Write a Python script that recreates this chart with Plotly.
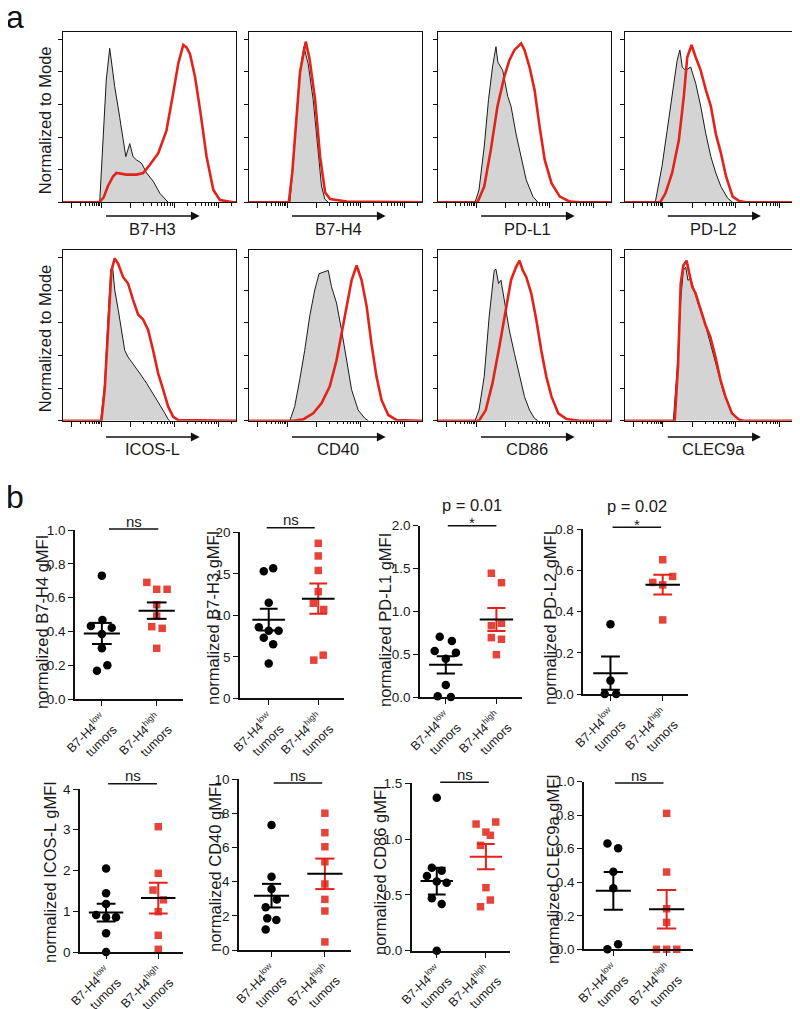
import math
import numpy as np
import plotly.graph_objects as go

# The page body adds an 8 px margin, so the figure is drawn 8 px smaller
# and all layout positions below are given in window pixels.
OFF = 8
W, H = 800 - OFF, 1009 - OFF
FONT = "Liberation Sans, Arial, Helvetica, sans-serif"
RED = "#e2231a"
RED_DOT = "#e6443a"
GREY_FILL = "#d4d4d4"

# ---------------- panel a : flow cytometry histograms ----------------
# x : position on display scale (% of plot width), y : % of mode
hist_names = ["B7-H3", "B7-H4", "PD-L1", "PD-L2", "ICOS-L", "CD40", "CD86", "CLEC9a"]

b7h3_ctrl_x = [21.2, 23.2, 25.0, 27.0, 29.9, 32.8, 35.1, 36.3, 38.6, 40.5, 42.5, 45.4, 48.3, 52.1, 56.0, 59.8, 60.8]
b7h3_ctrl_y = [0, 40, 75, 94.5, 71, 52, 36, 28, 36, 28, 26, 24, 18, 13, 5.5, 1, 0]
b7h3_stain_x = [0, 21.0, 23.5, 26.0, 29.0, 30.9, 36.7, 42.5, 46.3, 50.2, 55.0, 59.8, 63.7, 66.6, 69.5, 71.4, 73.4, 76.3, 79.2, 83.0, 86.9, 90.7, 98.5, 100]
b7h3_stain_y = [0, 0, 3, 10, 16, 18, 17, 17, 18, 23, 30, 44, 67, 85, 96.5, 95, 91, 77, 57, 28, 7.6, 1.4, 0, 0]

b7h4_ctrl_x = [23.6, 25.5, 27.4, 29.3, 31.7, 34.2, 37.1, 40.0, 41.9, 43.8, 45.8]
b7h4_ctrl_y = [0, 22, 52.5, 79, 95.5, 85, 63, 32, 10, 2, 0]
b7h4_stain_x = [0, 23.0, 25.0, 27.4, 29.5, 32.8, 35.0, 38.2, 41.1, 44.0, 46.9, 56.5, 100]
b7h4_stain_y = [0, 0, 18, 50, 80, 98.6, 88, 63, 28, 6, 2, 0.5, 0]

pdl1_ctrl_x = [21.4, 23.7, 26.7, 29.2, 31.5, 33.5, 34.6, 37.4, 40.3, 42.2, 45.1, 48.1, 51.0, 54.9, 57.8]
pdl1_ctrl_y = [0, 7.6, 34, 63, 83, 95.5, 86, 81, 65, 59, 42, 28, 13.7, 3.5, 0]
pdl1_stain_x = [0, 22.8, 26.7, 30.5, 34.4, 38.3, 41.2, 44.2, 48.1, 50.0, 52.9, 55.8, 58.8, 61.7, 65.6, 70.4, 76.3, 82.1, 100]
pdl1_stain_y = [0, 0, 9.6, 32, 59, 77, 87, 93.5, 97.5, 93.5, 83, 69, 46, 26, 11.7, 3.5, 0.4, 0, 0]

pdl2_ctrl_x = [17.6, 21.5, 24.5, 27.4, 30.3, 31.9, 33.3, 35.2, 38.2, 41.1, 44.0, 47.0, 49.9, 52.8, 55.8, 59.7, 62.6]
pdl2_ctrl_y = [0, 22, 44, 67, 87, 93.5, 83, 81, 83, 73, 59, 42, 28, 18, 9.6, 2.5, 0]
pdl2_stain_x = [0, 20.5, 23.5, 27.4, 31.3, 34.2, 36.2, 38.7, 41.1, 44.0, 47.0, 49.9, 52.8, 55.8, 58.7, 62.6, 66.5, 70.5, 100]
pdl2_stain_y = [0, 0, 5.5, 18, 38, 65, 89, 96.5, 89, 81, 69, 59, 42, 30, 16, 3.5, 0.8, 0, 0]

icosl_ctrl_x = [21.8, 24.1, 26.1, 27.6, 28.6, 29.9, 31.9, 33.8, 35.7, 37.6, 40.5, 44.4, 48.3, 52.1, 56.0, 58.9, 60.8, 61.8]
icosl_ctrl_y = [0, 23, 64, 92, 95, 80, 68, 55.5, 43, 39, 35, 29, 23, 16.7, 9.6, 4.5, 0.8, 0]
icosl_stain_x = [0, 22.2, 24.1, 26.1, 28.0, 29.9, 31.9, 34.7, 37.6, 40.5, 43.4, 46.3, 49.2, 52.1, 55.0, 57.9, 60.8, 63.7, 66.6, 100]
icosl_stain_y = [0, 0, 19, 60, 92, 99.4, 96, 88, 84, 74, 65, 62, 55.5, 43, 29, 19, 8.6, 2.4, 0.4, 0]

cd40_ctrl_x = [23.6, 26.4, 29.3, 32.2, 35.1, 38.0, 40.5, 42.9, 45.8, 47.7, 50.6, 53.5, 56.4, 59.3, 63.1, 67.0, 68.9]
cd40_ctrl_y = [0, 8.6, 25, 43, 64, 80, 90, 91, 92, 82, 72, 55.5, 37, 19, 6.5, 1.4, 0]
cd40_stain_x = [0, 25.5, 31.3, 37.1, 41.9, 46.7, 50.6, 53.5, 56.4, 59.3, 62.2, 65.1, 68.0, 70.8, 73.7, 76.6, 80.5, 85.3, 98.8, 100]
cd40_stain_y = [0, 0, 0.8, 4.5, 10.6, 21, 37, 53.5, 72, 86, 95, 86, 70, 47, 27, 12.7, 3.5, 0.4, 0, 0]

cd86_ctrl_x = [21.4, 23.7, 26.7, 29.6, 32.5, 33.5, 35.0, 36.4, 38.3, 41.2, 44.2, 47.1, 50.0, 52.9, 55.8, 57.8]
cd86_ctrl_y = [0, 6.5, 27, 64, 92, 92.7, 84, 86, 74, 55.5, 41, 27, 14.7, 6.5, 1.4, 0]
cd86_stain_x = [0, 23.7, 27.6, 31.5, 35.4, 39.3, 42.2, 45.1, 47.1, 49.0, 51.0, 53.9, 56.8, 59.7, 62.6, 65.6, 69.5, 74.3, 82.1, 100]
cd86_stain_y = [0, 0, 6.5, 23, 45, 68, 86, 94, 98, 92, 88, 78, 62, 43, 27, 14.7, 4.5, 1, 0, 0]

clec9a_ctrl_x = [28.1, 30.4, 32.4, 33.9, 35.3, 36.6, 38.2, 40.1, 43.0, 45.9, 48.7, 51.6, 54.5, 57.4, 61.3, 65.1, 67.1]
clec9a_ctrl_y = [0, 33, 74, 92, 94, 86, 87, 80, 70, 62, 51, 39, 27, 16.7, 6.5, 1.4, 0]
clec9a_stain_x = [0, 28.9, 30.8, 32.4, 33.9, 35.8, 37.4, 39.1, 41.0, 43.9, 46.8, 49.7, 52.6, 55.5, 58.4, 62.2, 66.1, 69.0, 100]
clec9a_stain_y = [0, 0, 33, 84, 95, 98, 90, 82, 78, 68, 58.6, 51, 39, 25, 14.7, 4.5, 0.8, 0, 0]

hist_ctrl = [(b7h3_ctrl_x, b7h3_ctrl_y), (b7h4_ctrl_x, b7h4_ctrl_y), (pdl1_ctrl_x, pdl1_ctrl_y),
             (pdl2_ctrl_x, pdl2_ctrl_y), (icosl_ctrl_x, icosl_ctrl_y), (cd40_ctrl_x, cd40_ctrl_y),
             (cd86_ctrl_x, cd86_ctrl_y), (clec9a_ctrl_x, clec9a_ctrl_y)]
hist_stain = [(b7h3_stain_x, b7h3_stain_y), (b7h4_stain_x, b7h4_stain_y), (pdl1_stain_x, pdl1_stain_y),
              (pdl2_stain_x, pdl2_stain_y), (icosl_stain_x, icosl_stain_y), (cd40_stain_x, cd40_stain_y),
              (cd86_stain_x, cd86_stain_y), (clec9a_stain_x, clec9a_stain_y)]

# ---------------- panel b : gMFI dot plots ----------------
group_labels = ["B7-H4<sup>low</sup><br>tumors", "B7-H4<sup>high</sup><br>tumors"]
dot_markers = ["B7-H4", "B7-H3", "PD-L1", "PD-L2", "ICOS-L", "CD40", "CD86", "CLEC9a"]

b7h4_low = [0.73, 0.467, 0.432, 0.422, 0.385, 0.30, 0.20, 0.167]
b7h4_high = [0.69, 0.649, 0.649, 0.558, 0.491, 0.428, 0.418, 0.30]
b7h3_low = [15.3, 15.66, 11.5, 8.55, 8.15, 8.15, 7.3, 6.5, 4.2]
b7h3_high = [18.67, 17.15, 15.4, 12.85, 11.45, 10.7, 4.6, 5.2]
pdl1_low = [0.704, 0.654, 0.537, 0.518, 0.447, 0.14, 0.01, 0.0]
pdl1_high = [1.445, 1.335, 0.833, 0.861, 0.693, 0.674, 0.494]
pdl2_low = [0.339, 0.065, 0.0, 0.0]
pdl2_high = [0.652, 0.571, 0.542, 0.530, 0.36]
icosl_low = [2.05, 1.44, 1.18, 0.91, 0.85, 0.85, 0.46, 0.0]
icosl_high = [3.075, 1.93, 1.52, 1.28, 0.99, 0.41, 0.065]
cd40_low = [7.31, 4.29, 3.57, 2.95, 2.5, 1.85, 1.75, 1.2]
cd40_high = [8.0, 6.86, 6.04, 5.16, 3.86, 2.96, 2.28, 0.47]
cd86_low = [1.371, 0.744, 0.717, 0.669, 0.62, 0.609, 0.47, 0.418, 0.0]
cd86_high = [1.135, 1.153, 1.063, 1.034, 0.944, 0.565, 0.454, 0.394]
clec9a_low = [0.632, 0.603, 0.463, 0.364, 0.03, 0.0]
clec9a_high = [0.811, 0.461, 0.242, 0.161, 0.0, 0.0, 0.0]

# horizontal scatter offsets of the points (category units)
b7h4_low_dx = [0, 0.01, -0.2, 0.18, 0, 0, 0.1, -0.09]
b7h4_high_dx = [-0.18, 0, 0.19, 0, 0, -0.09, 0.1, 0]
b7h3_low_dx = [-0.1, 0.09, 0, -0.2, 0, 0.2, -0.1, 0.09, 0]
b7h3_high_dx = [0, 0, 0, 0, -0.1, 0.11, -0.09, 0.1]
pdl1_low_dx = [-0.12, 0.12, -0.22, 0.2, 0, 0, -0.16, 0.1]
pdl1_high_dx = [-0.1, 0.1, -0.1, 0.1, -0.1, 0.1, 0]
pdl2_low_dx = [0, 0, -0.11, 0.11]
pdl2_high_dx = [0, 0.19, -0.19, 0, 0]
icosl_low_dx = [0, 0, 0, -0.19, 0, 0.19, 0, 0]
icosl_high_dx = [0, 0, -0.1, 0.1, 0, 0, 0]
cd40_low_dx = [0, 0, 0, 0.1, -0.11, -0.08, 0.09, -0.11]
cd40_high_dx = [0, 0, 0, 0, 0, 0, 0, 0]
cd86_low_dx = [0, -0.1, 0.1, -0.2, 0, 0.2, -0.1, 0.1, 0]
cd86_high_dx = [-0.2, 0.2, 0, 0.09, -0.11, 0, 0.09, -0.11]
clec9a_low_dx = [-0.11, 0.09, 0, 0, 0.09, -0.11]
clec9a_high_dx = [0, 0, 0, 0, -0.19, 0, 0.19]

dot_low = [b7h4_low, b7h3_low, pdl1_low, pdl2_low, icosl_low, cd40_low, cd86_low, clec9a_low]
dot_high = [b7h4_high, b7h3_high, pdl1_high, pdl2_high, icosl_high, cd40_high, cd86_high, clec9a_high]
dot_low_dx = [b7h4_low_dx, b7h3_low_dx, pdl1_low_dx, pdl2_low_dx, icosl_low_dx, cd40_low_dx, cd86_low_dx, clec9a_low_dx]
dot_high_dx = [b7h4_high_dx, b7h3_high_dx, pdl1_high_dx, pdl2_high_dx, icosl_high_dx, cd40_high_dx, cd86_high_dx, clec9a_high_dx]

y_max = [1.0, 20, 2.0, 0.8, 4, 10, 1.5, 1.0]
y_dtick = [0.2, 5, 0.5, 0.2, 1, 2, 0.5, 0.2]
y_fmt = [".1f", "d", ".1f", ".1f", "d", "d", ".1f", ".1f"]
sig_text = ["ns", "ns", "*", "*", "ns", "ns", "ns", "ns"]
p_text = [None, None, "p = 0.01", "p = 0.02", None, None, None, None]

# ---------------- layout geometry (window pixels) ----------------
hist_cols = [(63, 236), (249, 422), (438, 611), (625, 797)]
hist_rows = [(32, 202.3), (250, 420.7)]
arrow_y = [216, 437]
label_y = [229, 449]
ymode_top = 104.5

dot_x = [(75, 183), (240, 344), (420, 521.7), (583.3, 688.3), (80, 183.3), (239, 351), (411.7, 510), (584, 693.3)]
dot_y = [(530, 699), (532.3, 698.3), (525.7, 697), (529.3, 694), (789, 952), (779, 950), (783.3, 950.7), (781.7, 949.3)]
dot_xr = [(-0.49, 1.48), (-0.58, 1.52), (-0.51, 1.5), (-0.52, 1.49), (-0.5, 1.48), (-0.61, 1.49), (-0.51, 1.49), (-0.55, 1.5)]
sig_y = [529, 527.7, 525.7, 527.3, 783.7, 783, 782.3, 783]
sig_x = [(0.13, 1.03), (-0.04, 0.93), (0.04, 1.0), (0.04, 0.97), (0.04, 0.975), (0.04, 0.95), (0.07, 1.06), (0.03, 0.94)]
title_pos = [(42, 622), (213, 618), (385, 620), (550, 618), (50, 872), (215, 867), (380, 870), (553, 869)]
high_mean_col = ["black", "black", "black", "black", "black", "black", RED, "black"]
high_sem_col = ["black", RED, RED, RED, RED, RED, RED, RED]


def PX(x):
    return (x - OFF) / W


def PY(y):
    return 1 - (y - OFF) / H


fig = go.Figure()
layout = dict(template="none", width=W, height=H,
              margin=dict(l=0, r=0, t=0, b=0, pad=0, autoexpand=False),
              paper_bgcolor="white", plot_bgcolor="white", showlegend=False,
              font=dict(family=FONT, color="#111"))
annotations = []
shapes = []

# flow x-axis tick positions (biexponential-like display)
major_t = [5, 22, 39, 64.5, 90]
minor_t = [5 + 17 * math.log10(d) for d in range(2, 10)]
for base in (39, 64.5, 90):
    for d in range(2, 10):
        v = base + 25.5 * math.log10(d)
        if v < 100:
            minor_t.append(v)

for i, name in enumerate(hist_names):
    k = i + 1
    r, c = divmod(i, 4)
    x0, x1 = hist_cols[c]
    y0, y1 = hist_rows[r]
    xa = "x" if k == 1 else f"x{k}"
    ya = "y" if k == 1 else f"y{k}"
    cx, cy = hist_ctrl[i]
    sx, sy = hist_stain[i]
    fig.add_trace(go.Scatter(x=cx, y=cy, mode="lines", fill="tozeroy", fillcolor=GREY_FILL,
                             line=dict(color="#1a1a1a", width=1), xaxis=xa, yaxis=ya,
                             hoverinfo="skip"))
    fig.add_trace(go.Scatter(x=sx, y=sy, mode="lines", line=dict(color=RED, width=2.6),
                             xaxis=xa, yaxis=ya, hoverinfo="skip"))
    layout[f"xaxis{k}"] = dict(domain=[PX(x0), PX(x1)], range=[0, 100], anchor=ya, automargin=False,
                               showline=True, mirror=True, linecolor="#111", linewidth=1.3,
                               ticks="outside", tickvals=major_t, ticklen=5, tickwidth=1,
                               tickcolor="#111", showticklabels=False, showgrid=False, zeroline=False,
                               minor=dict(tickvals=minor_t, ticks="outside", ticklen=2.5,
                                          tickwidth=1, tickcolor="#111", showgrid=False))
    layout[f"yaxis{k}"] = dict(domain=[PY(y1), PY(y0)], range=[0, ymode_top], anchor=xa, automargin=False,
                               showline=True, mirror=True, linecolor="#111", linewidth=1.3,
                               ticks="outside", tickvals=[0, 20, 40, 60, 80, 100], ticklen=4,
                               tickcolor="#111", showticklabels=False, showgrid=False, zeroline=False)
    w = x1 - x0
    annotations.append(dict(x=PX(x0 + 0.79 * w), y=PY(arrow_y[r]), xref="paper", yref="paper",
                            ax=-0.55 * w, ay=0, axref="pixel", ayref="pixel", text="",
                            showarrow=True, arrowhead=2, arrowsize=1.1, arrowwidth=1.6,
                            arrowcolor="#111", standoff=0, startstandoff=0))
    annotations.append(dict(x=PX(x0 + 0.515 * w), y=PY(label_y[r]), xref="paper", yref="paper",
                            text=name, showarrow=False, font=dict(size=16.5, color="#1a1a1a"),
                            xanchor="center", yanchor="middle"))

for r in range(2):
    yc = (hist_rows[r][0] + hist_rows[r][1]) / 2 + 3
    annotations.append(dict(x=PX(45), y=PY(yc), xref="paper", yref="paper", text="Normalized to Mode",
                            textangle=-90, showarrow=False, font=dict(size=16.5, color="#1a1a1a"),
                            xanchor="center", yanchor="middle"))


def mean_sem(v):
    a = np.asarray(v, dtype=float)
    return a.mean(), a.std(ddof=1) / math.sqrt(len(a))


for i, name in enumerate(dot_markers):
    k = i + 9
    xa, ya = f"x{k}", f"y{k}"
    x0, x1 = dot_x[i]
    y0, y1 = dot_y[i]
    lows, highs = dot_low[i], dot_high[i]
    fig.add_trace(go.Scatter(x=[0 + d for d in dot_low_dx[i]], y=lows, mode="markers",
                             marker=dict(symbol="circle", size=8.5, color="black"),
                             xaxis=xa, yaxis=ya, cliponaxis=False, hoverinfo="skip"))
    fig.add_trace(go.Scatter(x=[1 + d for d in dot_high_dx[i]], y=highs, mode="markers",
                             marker=dict(symbol="square", size=7.5, color=RED_DOT),
                             xaxis=xa, yaxis=ya, cliponaxis=False, hoverinfo="skip"))
    for c, vals, mcol, scol in ((0, lows, "black", "black"), (1, highs, high_mean_col[i], high_sem_col[i])):
        m, s = mean_sem(vals)
        fig.add_trace(go.Scatter(x=[c, c, None, c - 0.18, c + 0.18, None, c - 0.18, c + 0.18],
                                 y=[m - s, m + s, None, m + s, m + s, None, m - s, m - s],
                                 mode="lines", line=dict(color=scol, width=2),
                                 xaxis=xa, yaxis=ya, cliponaxis=False, hoverinfo="skip"))
        fig.add_trace(go.Scatter(x=[c - 0.33, c + 0.33], y=[m, m], mode="lines",
                                 line=dict(color=mcol, width=2),
                                 xaxis=xa, yaxis=ya, cliponaxis=False, hoverinfo="skip"))
    layout[f"xaxis{k}"] = dict(domain=[PX(x0), PX(x1)], range=list(dot_xr[i]), anchor=ya, automargin=False,
                               showline=True, linecolor="#111", linewidth=1.6,
                               ticks="outside", tickvals=[0, 1], ticktext=group_labels,
                               ticklen=5, tickwidth=1.4, tickcolor="#111", tickangle=-45,
                               tickfont=dict(size=12.5, color="#1a1a1a"),
                               showgrid=False, zeroline=False)
    layout[f"yaxis{k}"] = dict(domain=[PY(y1), PY(y0)], range=[0, y_max[i]], anchor=xa, automargin=False,
                               showline=True, linecolor="#111", linewidth=1.6,
                               ticks="outside", dtick=y_dtick[i], tick0=0, tickformat=y_fmt[i],
                               ticklen=5, tickwidth=1.4, tickcolor="#111",
                               tickfont=dict(size=13.5, color="#1a1a1a"),
                               showgrid=False, zeroline=False)
    tx, ty = title_pos[i]
    annotations.append(dict(x=PX(tx), y=PY(ty), xref="paper", yref="paper",
                            text=f"normalized {name} gMFI", textangle=-90, showarrow=False,
                            font=dict(size=16.5, color="#1a1a1a"), xanchor="center", yanchor="middle"))
    # significance bar
    shapes.append(dict(type="line", xref=xa, yref="paper", x0=sig_x[i][0], x1=sig_x[i][1],
                       y0=PY(sig_y[i]), y1=PY(sig_y[i]), line=dict(color="#111", width=1.5)))
    xm = (sig_x[i][0] + sig_x[i][1]) / 2
    if sig_text[i] == "ns":
        annotations.append(dict(x=xm, y=PY(sig_y[i] - 8), xref=xa, yref="paper", text="ns",
                                showarrow=False, font=dict(size=15, color="#1a1a1a"),
                                xanchor="center", yanchor="middle"))
    else:
        annotations.append(dict(x=xm, y=PY(sig_y[i] - 3), xref=xa, yref="paper", text="*",
                                showarrow=False, font=dict(size=15, color="#1a1a1a"),
                                xanchor="center", yanchor="middle"))
    if p_text[i]:
        annotations.append(dict(x=xm, y=PY(sig_y[i] - 21), xref=xa, yref="paper", text=p_text[i],
                                showarrow=False, font=dict(size=16.5, color="#1a1a1a"),
                                xanchor="center", yanchor="middle"))

annotations.append(dict(x=PX(15), y=PY(17), xref="paper", yref="paper", text="a", showarrow=False,
                        font=dict(size=32, color="#111"), xanchor="center", yanchor="middle"))
annotations.append(dict(x=PX(15), y=PY(497), xref="paper", yref="paper", text="b", showarrow=False,
                        font=dict(size=32, color="#111"), xanchor="center", yanchor="middle"))

layout["annotations"] = annotations
layout["shapes"] = shapes
fig.update_layout(**layout)
fig.write_html("out.html")
